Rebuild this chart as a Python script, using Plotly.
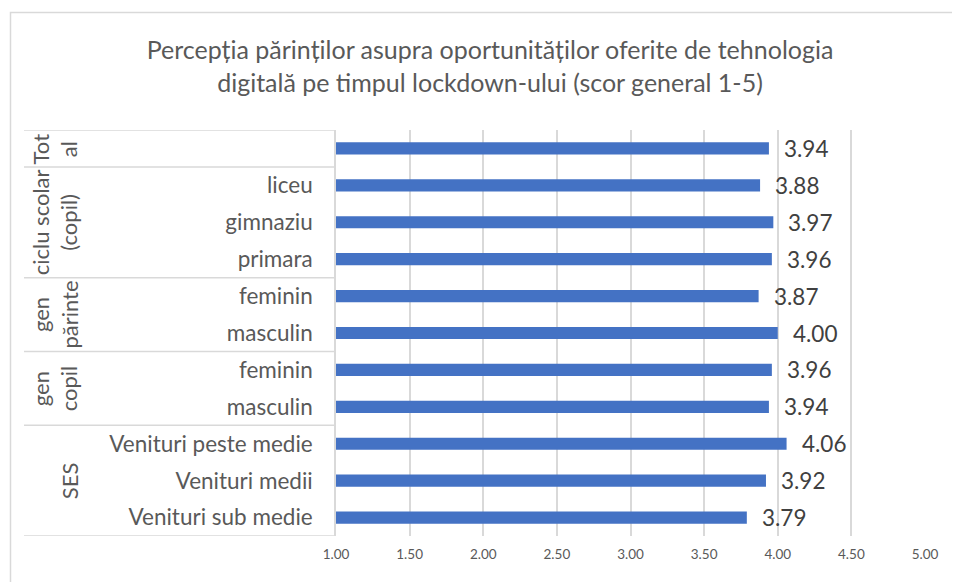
import plotly.graph_objects as go

# ---- data (bottom to top) ----
categories = ["Venituri sub medie", "Venituri medii", "Venituri peste medie",
              "masculin", "feminin",
              "masculin", "feminin",
              "primara", "gimnaziu", "liceu",
              ""]
groups = ["SES", "SES", "SES",
          "gen copil", "gen copil",
          "gen părinte", "gen părinte",
          "ciclu scolar (copil)", "ciclu scolar (copil)", "ciclu scolar (copil)",
          "Total"]
group_labels = {"SES": "SES",
                "gen copil": "gen<br>copil",
                "gen părinte": "gen<br>părinte",
                "ciclu scolar (copil)": "ciclu scolar<br>(copil)",
                "Total": "Tot<br>al"}
values = [3.79, 3.92, 4.06, 3.94, 3.96, 4.00, 3.87, 3.96, 3.97, 3.88, 3.94]
x_ticks = [1.0, 1.5, 2.0, 2.5, 3.0, 3.5, 4.0, 4.5, 5.0]
title = "Percepția părinților asupra oportunităților oferite de tehnologia<br>digitală pe timpul lockdown-ului (scor general 1-5)"

# page body has an 8px margin: lay out in window pixels, shifted by OFF
OFF = 8
W, H = 960 - OFF, 582 - OFF
PLOT_L, PLOT_R, PLOT_T, PLOT_B = 336, 925, 130, 536   # window pixels
L, T = PLOT_L - OFF, PLOT_T - OFF
R, B = W - (PLOT_R - OFF), H - (PLOT_B - OFF)
PW, PH = PLOT_R - PLOT_L, PLOT_B - PLOT_T
GRID = "#D9D9D9"
FONT = "Lato"

def px(xp):
    return (xp - PLOT_L) / PW

def py(yp):
    return (PLOT_B - yp) / PH

pos = list(range(len(categories)))

fig = go.Figure()
fig.add_trace(go.Bar(
    x=values, y=pos, orientation="h", width=0.33,
    marker=dict(color="#4472C4", line=dict(width=0)),
    hoverinfo="x+y",
))

# value labels
for v, p in zip(values, pos):
    fig.add_annotation(x=v, y=p, xref="x", yref="y", text=f"{v:.2f}",
                       showarrow=False, xanchor="left", xshift=13,
                       font=dict(family=FONT, size=22.5, color="#404040"))

# group labels and separators
shapes = []
start = 0
bounds = []
for i in range(1, len(groups) + 1):
    if i == len(groups) or groups[i] != groups[start]:
        bounds.append((start, i - 1, groups[start]))
        start = i
for s, e, g in bounds:
    fig.add_annotation(x=px(85), xref="paper", y=(s + e) / 2, yref="y",
                       text=group_labels[g], textangle=-90, showarrow=False,
                       xanchor="right", yanchor="middle",
                       font=dict(family=FONT, size=22, color="#595959"))
    shapes.append(dict(type="line", xref="paper", yref="y",
                       x0=px(24), x1=0, y0=s - 0.5, y1=s - 0.5,
                       line=dict(color=GRID, width=1.5)))
shapes.append(dict(type="line", xref="paper", yref="y",
                   x0=px(24), x1=0, y0=len(pos) - 0.5, y1=len(pos) - 0.5,
                   line=dict(color=GRID, width=1.5)))
# chart border (runs off the right and bottom edges)
shapes.append(dict(type="rect", xref="paper", yref="paper", layer="below",
                   x0=px(10.5), x1=px(1000), y0=py(12.5), y1=py(700),
                   line=dict(color=GRID, width=1.5), fillcolor="rgba(0,0,0,0)"))

fig.update_layout(
    width=W, height=H,
    margin=dict(l=L, r=R, t=T, b=B),
    paper_bgcolor="white", plot_bgcolor="white",
    showlegend=False,
    shapes=shapes,
    title=dict(text=title, x=(490 - OFF) / W, xanchor="center", xref="container",
               y=1 - (59 - OFF) / H, yanchor="top", yref="container",
               font=dict(family=FONT, size=25, color="#595959")),
    xaxis=dict(range=[1, 5], tickvals=x_ticks, ticktext=[f"{t:.2f}" for t in x_ticks],
               showgrid=True, gridcolor=GRID, gridwidth=1.5, zeroline=False,
               showline=False, ticks="", ticklabelstandoff=8,
               tickfont=dict(family=FONT, size=13.5, color="#595959")),
    yaxis=dict(range=[-0.5, len(pos) - 0.5], tickvals=pos, ticktext=categories,
               showgrid=False, zeroline=False, showline=True, linecolor=GRID, linewidth=1.5,
               ticks="", ticklabelstandoff=17,
               tickfont=dict(family=FONT, size=22.5, color="#595959")),
)

fig.write_html("out.html")
